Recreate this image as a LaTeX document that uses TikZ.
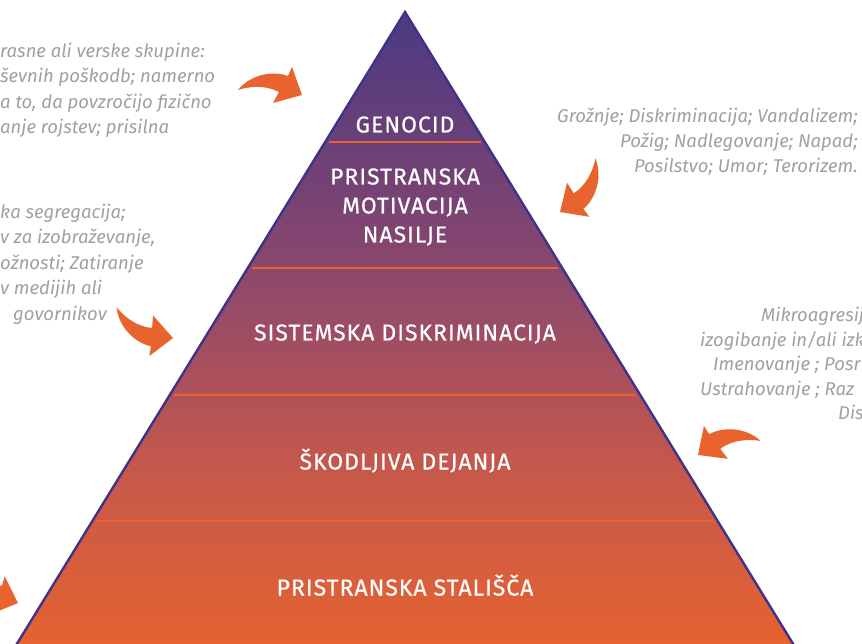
\documentclass[tikz,border=0pt]{standalone}
\usepackage{fontspec}
\setmainfont{Fira Sans}
\definecolor{pyrTop}{HTML}{4B3A82}
\definecolor{pyrA}{HTML}{7A4373}
\definecolor{pyrB}{HTML}{9E4D63}
\definecolor{pyrC}{HTML}{C5584C}
\definecolor{pyrBot}{HTML}{E8632E}
\definecolor{rim}{HTML}{3E3389}
\definecolor{accent}{HTML}{E8632E}
\definecolor{noteGray}{HTML}{A0A0A0}
\pgfdeclareverticalshading{pyramidfade}{100bp}{color(0bp)=(pyrBot); color(25bp)=(pyrBot); color(40bp)=(pyrC); color(50bp)=(pyrB); color(60bp)=(pyrA); color(75bp)=(pyrTop); color(100bp)=(pyrTop)}
\begin{document}
\begin{tikzpicture}[x=1pt,y=-1pt,every node/.style={inner sep=0pt},
  lvl/.style={text=white,font=\fontsize{23}{29}\selectfont\addfontfeature{LetterSpace=4.3,FakeBold=0.5},align=center},
  note/.style={text=noteGray,font=\fontsize{18.5}{25}\selectfont\itshape},
  divider/.style={draw=accent,line width=1.6pt},
  bentarrow/.pic={\fill[accent] (-64,-5) .. controls (-52,-20) and (-30,-25) .. (-14,-19) -- (-10,-28) -- (0,0) -- (-29,8) -- (-23,-3) .. controls (-36,-10) and (-52,-9) .. cycle;}]
\useasboundingbox (0,0) rectangle (862,644);
\clip (0,0) rectangle (862,644);
% pyramid
\coordinate (apex) at (405,12);
\coordinate (baseL) at (7,660);
\coordinate (baseR) at (803,660);
\shade[shading=pyramidfade] (apex) -- (baseR) -- (baseL) -- cycle;
\foreach \y in {142,268,395,521}
  \draw[divider] ({405-0.614*(\y-12)+4},\y) -- ({405+0.614*(\y-12)-4},\y);
\draw[rim,line width=2.4pt,line join=miter] (apex) -- (baseR) -- (baseL) -- cycle;
% levels
\node[lvl,anchor=base] (genocid) at (405,132.5) {GENOCID};
\node[lvl] (motiv) at (405,207) {PRISTRANSKA\\MOTIVACIJA\\NASILJE};
\node[lvl,anchor=base] (sistem) at (405,340.5) {SISTEMSKA DISKRIMINACIJA};
\node[lvl,anchor=base] (skod) at (405,469.5) {ŠKODLJIVA DEJANJA};
\node[lvl,anchor=base] (stal) at (405,595.5) {PRISTRANSKA STALIŠČA};
% side notes
\foreach \yy/\txt [count=\i] in {58/{rasne ali verske skupine:},83/{ševnih poškodb; namerno},109/{a to, da povzročijo fizično},134/{anje rojstev; prisilna}}
  \node[note,anchor=base west] (gen-\i) at (0,\yy) {\txt};
\foreach \xx/\yy/\txt [count=\i] in {0/219/{ka segregacija;},0/244/{v za izobraževanje,},0/270/{ožnosti; Zatiranje},0/295/{v medijih ali},13/320/{govornikov}}
  \node[note,anchor=base west] (sys-\i) at (\xx,\yy) {\txt};
\foreach \yy/\txt [count=\i] in {123/{Grožnje; Diskriminacija; Vandalizem;},148/{Požig; Nadlegovanje; Napad;},173/{Posilstvo; Umor; Terorizem.}}
  \node[note,anchor=base east] (mot-\i) at (858,\yy) {\txt};
\foreach \xx/\yy/\txt [count=\i] in {761/322/{Mikroagresij},700/346/{izogibanje in/ali izk},713/370/{Imenovanje ; Posr},700/395/{Ustrahovanje ; Raz},838/419/{Dis}}
  \node[note,anchor=base west] (dej-\i) at (\xx,\yy) {\txt};
% arrows
\pic at (302,95) {bentarrow};
\pic[rotate=-119] at (560,212) {bentarrow};
\pic[rotate=-33,yscale=-1] at (173,338) {bentarrow};
\pic[rotate=-171.8,yscale=-1] at (698,455) {bentarrow};
\pic[rotate=6.9] at (18,603) {bentarrow};
\end{tikzpicture}
\end{document}
